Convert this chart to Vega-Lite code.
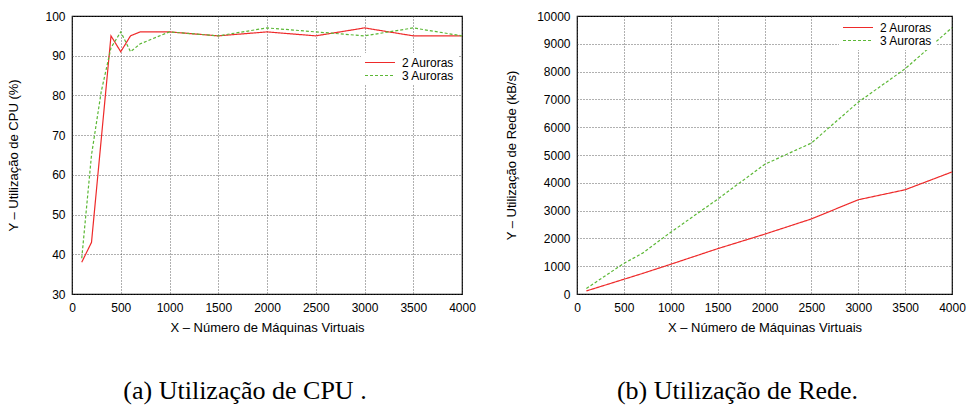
{
  "$schema": "https://vega.github.io/schema/vega-lite/v6.json",
  "padding": {"left": 7, "top": 9, "right": 3, "bottom": 0},
  "background": "white",
  "datasets": {
    "cpu": [
      {"series": "2 Auroras", "vms": 100, "value": 38},
      {"series": "2 Auroras", "vms": 200, "value": 43},
      {"series": "2 Auroras", "vms": 300, "value": 69},
      {"series": "2 Auroras", "vms": 400, "value": 95},
      {"series": "2 Auroras", "vms": 500, "value": 91},
      {"series": "2 Auroras", "vms": 600, "value": 95},
      {"series": "2 Auroras", "vms": 700, "value": 96},
      {"series": "2 Auroras", "vms": 1000, "value": 96},
      {"series": "2 Auroras", "vms": 1500, "value": 95},
      {"series": "2 Auroras", "vms": 2000, "value": 96},
      {"series": "2 Auroras", "vms": 2500, "value": 95},
      {"series": "2 Auroras", "vms": 3000, "value": 97},
      {"series": "2 Auroras", "vms": 3500, "value": 95},
      {"series": "2 Auroras", "vms": 4000, "value": 95},
      {"series": "3 Auroras", "vms": 100, "value": 39},
      {"series": "3 Auroras", "vms": 200, "value": 65},
      {"series": "3 Auroras", "vms": 300, "value": 81},
      {"series": "3 Auroras", "vms": 400, "value": 92},
      {"series": "3 Auroras", "vms": 500, "value": 96},
      {"series": "3 Auroras", "vms": 600, "value": 91},
      {"series": "3 Auroras", "vms": 700, "value": 93},
      {"series": "3 Auroras", "vms": 1000, "value": 96},
      {"series": "3 Auroras", "vms": 1500, "value": 95},
      {"series": "3 Auroras", "vms": 2000, "value": 97},
      {"series": "3 Auroras", "vms": 2500, "value": 96},
      {"series": "3 Auroras", "vms": 3000, "value": 95},
      {"series": "3 Auroras", "vms": 3500, "value": 97},
      {"series": "3 Auroras", "vms": 4000, "value": 95}
    ],
    "net": [
      {"series": "2 Auroras", "vms": 100, "value": 110},
      {"series": "2 Auroras", "vms": 500, "value": 530},
      {"series": "2 Auroras", "vms": 700, "value": 740},
      {"series": "2 Auroras", "vms": 1000, "value": 1070},
      {"series": "2 Auroras", "vms": 1500, "value": 1630},
      {"series": "2 Auroras", "vms": 2000, "value": 2150},
      {"series": "2 Auroras", "vms": 2500, "value": 2700},
      {"series": "2 Auroras", "vms": 3000, "value": 3390},
      {"series": "2 Auroras", "vms": 3500, "value": 3750},
      {"series": "2 Auroras", "vms": 4000, "value": 4390},
      {"series": "3 Auroras", "vms": 100, "value": 200},
      {"series": "3 Auroras", "vms": 500, "value": 1100},
      {"series": "3 Auroras", "vms": 700, "value": 1470},
      {"series": "3 Auroras", "vms": 1000, "value": 2220},
      {"series": "3 Auroras", "vms": 1500, "value": 3410},
      {"series": "3 Auroras", "vms": 2000, "value": 4660},
      {"series": "3 Auroras", "vms": 2500, "value": 5430},
      {"series": "3 Auroras", "vms": 3000, "value": 6900},
      {"series": "3 Auroras", "vms": 3500, "value": 8100},
      {"series": "3 Auroras", "vms": 4000, "value": 9580}
    ]
  },
  "config": {
    "font": "Liberation Sans",
    "view": {"stroke": "black", "strokeWidth": 1.2},
    "axis": {
      "labelFont": "Liberation Sans",
      "labelFontSize": 12,
      "labelColor": "black",
      "labelFlush": false,
      "format": "d",
      "titleFont": "Liberation Sans",
      "titleFontSize": 13,
      "titleFontWeight": "normal",
      "titleColor": "black",
      "domain": false,
      "tickColor": "black",
      "tickSize": 0,
      "labelPadding": 7,
      "gridColor": "#444444",
      "gridDash": [1, 2],
      "gridOpacity": 0.85
    },
    "axisX": {"labelPadding": 8, "titlePadding": 8},
    "legend": {
      "labelFont": "Liberation Sans",
      "labelFontSize": 12,
      "labelColor": "black",
      "symbolType": "stroke",
      "symbolSize": 900,
      "symbolStrokeWidth": 1.2,
      "clipHeight": 13,
      "fillColor": "white",
      "padding": 3,
      "rowPadding": 0,
      "labelOffset": 6,
      "title": null
    },
    "title": {
      "font": "Liberation Serif",
      "fontSize": 26,
      "fontWeight": "normal",
      "color": "black",
      "orient": "bottom",
      "offset": 44
    },
    "concat": {"spacing": 29}
  },
  "hconcat": [
    {
      "width": 390,
      "height": 278,
      "title": {"text": "(a) Utilização de CPU .", "dx": -22},
      "data": {"name": "cpu"},
      "mark": {"type": "line", "strokeWidth": 1.2},
      "encoding": {
        "x": {"field": "vms", "type": "quantitative", "scale": {"domain": [0, 4000], "nice": false}, "axis": {"values": [0, 500, 1000, 1500, 2000, 2500, 3000, 3500, 4000], "title": "X – Número de Máquinas Virtuais"}},
        "y": {"field": "value", "type": "quantitative", "scale": {"domain": [30, 100], "nice": false, "zero": false}, "axis": {"values": [30, 40, 50, 60, 70, 80, 90, 100], "title": "Y – Utilização de CPU (%)", "titlePadding": 24}},
        "color": {"field": "series", "type": "nominal", "scale": {"domain": ["2 Auroras", "3 Auroras"], "range": ["#ee2a2a", "#5cb836"]}, "legend": {"orient": "none", "legendX": 289, "legendY": 37}},
        "strokeDash": {"field": "series", "type": "nominal", "scale": {"domain": ["2 Auroras", "3 Auroras"], "range": [[1, 0], [3, 2]]}, "legend": {"orient": "none", "legendX": 289, "legendY": 37}}
      }
    },
    {
      "width": 375,
      "height": 278,
      "title": {"text": "(b) Utilização de Rede.", "dx": -27},
      "data": {"name": "net"},
      "mark": {"type": "line", "strokeWidth": 1.2},
      "encoding": {
        "x": {"field": "vms", "type": "quantitative", "scale": {"domain": [0, 4000], "nice": false}, "axis": {"values": [0, 500, 1000, 1500, 2000, 2500, 3000, 3500, 4000], "title": "X – Número de Máquinas Virtuais"}},
        "y": {"field": "value", "type": "quantitative", "scale": {"domain": [0, 10000], "nice": false}, "axis": {"values": [0, 1000, 2000, 3000, 4000, 5000, 6000, 7000, 8000, 9000, 10000], "title": "Y – Utilização de Rede (kB/s)", "titlePadding": 18}},
        "color": {"field": "series", "type": "nominal", "scale": {"domain": ["2 Auroras", "3 Auroras"], "range": ["#ee2a2a", "#5cb836"]}, "legend": {"orient": "none", "legendX": 262, "legendY": 2}},
        "strokeDash": {"field": "series", "type": "nominal", "scale": {"domain": ["2 Auroras", "3 Auroras"], "range": [[1, 0], [3, 2]]}, "legend": {"orient": "none", "legendX": 262, "legendY": 2}}
      }
    }
  ],
  "resolve": {"scale": {"color": "independent", "strokeDash": "independent"}, "legend": {"color": "independent", "strokeDash": "independent"}}
}
